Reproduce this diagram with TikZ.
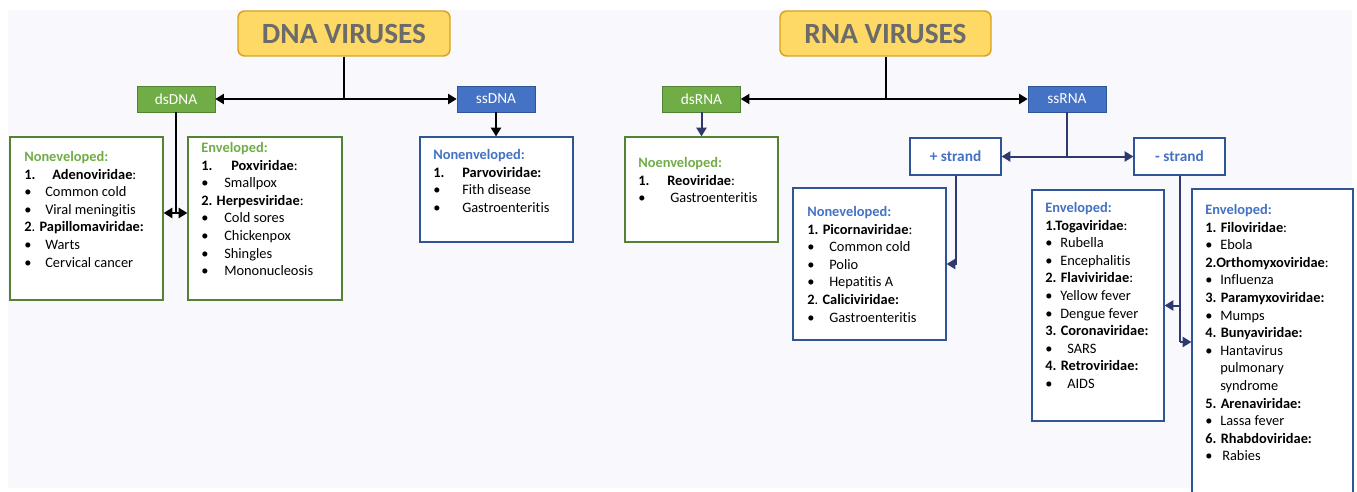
\documentclass[tikz,border=0pt]{standalone}
\usepackage{fontspec}
\setmainfont{Carlito}[Ligatures=NoCommon]
\usetikzlibrary{arrows.meta}
\definecolor{bgc}{HTML}{F9F9FD}
\definecolor{gold}{HTML}{FFD966}
\definecolor{goldline}{HTML}{D9A21B}
\definecolor{titlegray}{HTML}{6B6B6B}
\definecolor{vgreen}{HTML}{70AD47}
\definecolor{vgreenline}{HTML}{548235}
\definecolor{vblue}{HTML}{4472C4}
\definecolor{vblueline}{HTML}{2F5597}
\definecolor{navy}{HTML}{2E3A6E}
% fixed-width lead-in for numbers and bullets
\newcommand\lead[2]{\makebox[#1][l]{#2}}
\begin{document}
\begin{tikzpicture}[x=0.75pt,y=-0.75pt,
  title/.style={draw=goldline,line width=1.1pt,fill=gold,rounded corners=5pt,
    inner sep=0,minimum width=159pt,minimum height=33.75pt,
    text=titlegray,font=\fontsize{22}{26}\selectfont\bfseries},
  tag/.style={inner sep=0,minimum width=58.5pt,minimum height=19.5pt,
    text=white,font=\fontsize{11.5}{14}\selectfont},
  gtag/.style={tag,fill=vgreen,draw=vgreenline,line width=0.4pt},
  btag/.style={tag,fill=vblue,draw=vblueline,line width=0.4pt},
  strandbox/.style={draw=vblueline,line width=0.9pt,fill=white,inner sep=0,
    minimum width=68.25pt,minimum height=27.75pt,text=vblue,
    font=\fontsize{11.5}{14}\selectfont\bfseries},
  gbox/.style={draw=vgreenline,line width=0.9pt,fill=white,inner sep=0},
  bbox/.style={draw=vblueline,line width=0.9pt,fill=white,inner sep=0},
  txt/.style={anchor=north west,inner sep=0,align=left,
    font=\fontsize{10.8}{13.2}\selectfont},
  conn/.style={draw=black,line width=1.5pt},
  nconn/.style={draw=navy,line width=1.5pt},
  tip/.style={-{Triangle[length=6.5pt,width=7.5pt]}},
  tips/.style={{Triangle[length=6.5pt,width=7.5pt]}-{Triangle[length=6.5pt,width=7.5pt]}}
]
\clip (0,0) rectangle (1357,492);
\fill[white] (0,0) rectangle (1357,492);
\fill[bgc] (8,10) rectangle (1352,488);

% ---------- DNA viruses ----------
\node[title] (dna) at (344,33.5) {DNA VIRUSES};
\node[gtag] (dsdna) at (176,99) {dsDNA};
\node[btag] (ssdna) at (496,99) {ssDNA};

\node[gbox,minimum width=114.75pt,minimum height=122.25pt] (adeno) at (86.5,218.5) {};
\node[gbox,minimum width=115.5pt,minimum height=122.25pt] (pox) at (265,218.5) {};
\node[bbox,minimum width=114.75pt,minimum height=78.75pt] (parvo) at (496.5,189.5) {};

\draw[conn] (dna.south) -- (dna.south |- dsdna.east);
\draw[conn,tips] (dsdna.east) -- (ssdna.west);
\coordinate (dsj) at (176,213);
\draw[conn] (dsdna.south) -- (dsj);
\draw[conn,tips] (adeno.east |- dsj) -- (pox.west |- dsj);
\draw[conn,tip] (ssdna.south) -- (ssdna.south |- parvo.north);

\node[txt] (adenotxt) at (24,149) {\strut\textcolor{vgreen}{\textbf{Noneveloped:}}\\
\lead{21pt}{\textbf{1.}}\textbf{Adenoviridae}:\\
\lead{15.75pt}{\textbullet}Common cold\\
\lead{15.75pt}{\textbullet}Viral meningitis\\
\textbf{2}. \textbf{Papillomaviridae:}\\
\lead{15.75pt}{\textbullet}Warts\\
\lead{15.75pt}{\textbullet}Cervical cancer};

\node[txt] (poxtxt) at (201,140) {\strut\textcolor{vgreen}{\textbf{Enveloped:}}\\
\lead{22.5pt}{\textbf{1.}}\textbf{Poxviridae}:\\
\lead{17.25pt}{\textbullet}Smallpox\\
\textbf{2. Herpesviridae}:\\
\lead{17.25pt}{\textbullet}Cold sores\\
\lead{17.25pt}{\textbullet}Chickenpox\\
\lead{17.25pt}{\textbullet}Shingles\\
\lead{17.25pt}{\textbullet}Mononucleosis};

\node[txt] (parvotxt) at (433,147) {\strut\textcolor{vblue}{\textbf{Nonenveloped:}}\\
\lead{21.75pt}{\textbf{1.}}\textbf{Parvoviridae:}\\
\lead{21.75pt}{\textbullet}Fith disease\\
\lead{21.75pt}{\textbullet}Gastroenteritis};

% ---------- RNA viruses ----------
\node[title,minimum width=158.25pt] (rna) at (885.5,33.5) {RNA VIRUSES};
\node[gtag] (dsrna) at (701.5,99) {dsRNA};
\node[btag] (ssrna) at (1067,99) {ssRNA};

\node[gbox,minimum width=114.75pt,minimum height=78.75pt] (reo) at (701.5,189.5) {};
\node[strandbox] (plus) at (955.5,156.5) {+ strand};
\node[strandbox] (minus) at (1179.5,156.5) {- strand};
\node[bbox,minimum width=114.75pt,minimum height=114pt] (picorna) at (869.5,264) {};
\node[bbox,minimum width=99pt,minimum height=173.25pt] (toga) at (1098,305.5) {};
\node[bbox,minimum width=120.75pt,minimum height=240.75pt] (filo) at (1272.5,349.5) {};

\draw[conn] (rna.south) -- (rna.south |- dsrna.east);
\draw[conn,tips] (dsrna.east) -- (ssrna.west);
\draw[nconn,tip] (dsrna.south) -- (dsrna.south |- reo.north);
\draw[nconn] (ssrna.south) -- (ssrna.south |- plus.east);
\draw[nconn,tips] (plus.east) -- (minus.west);
\draw[nconn,tip] (plus.south) |- (picorna.east);
\coordinate (mj) at (1179.5,342);
\draw[nconn] (minus.south) -- (mj);
\draw[nconn,tip] (minus.south |- toga.east) -- (toga.east);
\draw[nconn,tip] (mj) -- (filo.west |- mj);

\node[txt] (reotxt) at (638,155) {\strut\textcolor{vgreen}{\textbf{Noenveloped:}}\\
\lead{21.75pt}{\textbf{1.}}\textbf{Reoviridae}:\\
\lead{24pt}{\textbullet}Gastroenteritis};

\node[txt] (picornatxt) at (807,204) {\strut\textcolor{vblue}{\textbf{Noneveloped:}}\\
\textbf{1. Picornaviridae}:\\
\lead{16.5pt}{\textbullet}Common cold\\
\lead{16.5pt}{\textbullet}Polio\\
\lead{16.5pt}{\textbullet}Hepatitis A\\
\textbf{2}. \textbf{Caliciviridae:}\\
\lead{16.5pt}{\textbullet}Gastroenteritis};

\node[txt] (togatxt) at (1045,200) {\strut\textcolor{vblue}{\textbf{Enveloped:}}\\
\textbf{1.Togaviridae}:\\
\lead{11.25pt}{\textbullet}Rubella\\
\lead{11.25pt}{\textbullet}Encephalitis\\
\textbf{2. Flaviviridae}:\\
\lead{11.25pt}{\textbullet}Yellow fever\\
\lead{11.25pt}{\textbullet}Dengue fever\\
\textbf{3. Coronaviridae:}\\
\lead{16.5pt}{\textbullet}SARS\\
\textbf{4. Retroviridae:}\\
\lead{16.5pt}{\textbullet}AIDS};

\node[txt] (filotxt) at (1205,202) {\strut\textcolor{vblue}{\textbf{Enveloped:}}\\
\textbf{1. Filoviridae}:\\
\lead{11.25pt}{\textbullet}Ebola\\
\textbf{2.Orthomyxoviridae}:\\
\lead{11.25pt}{\textbullet}Influenza\\
\textbf{3. Paramyxoviridae:}\\
\lead{11.25pt}{\textbullet}Mumps\\
\textbf{4. Bunyaviridae:}\\
\lead{11.25pt}{\textbullet}Hantavirus\\
\hspace*{11.25pt}pulmonary\\
\hspace*{11.25pt}syndrome\\
\textbf{5. Arenaviridae:}\\
\lead{11.25pt}{\textbullet}Lassa fever\\
\textbf{6. Rhabdoviridae:}\\
\lead{12.75pt}{\textbullet}Rabies};
\end{tikzpicture}
\end{document}
